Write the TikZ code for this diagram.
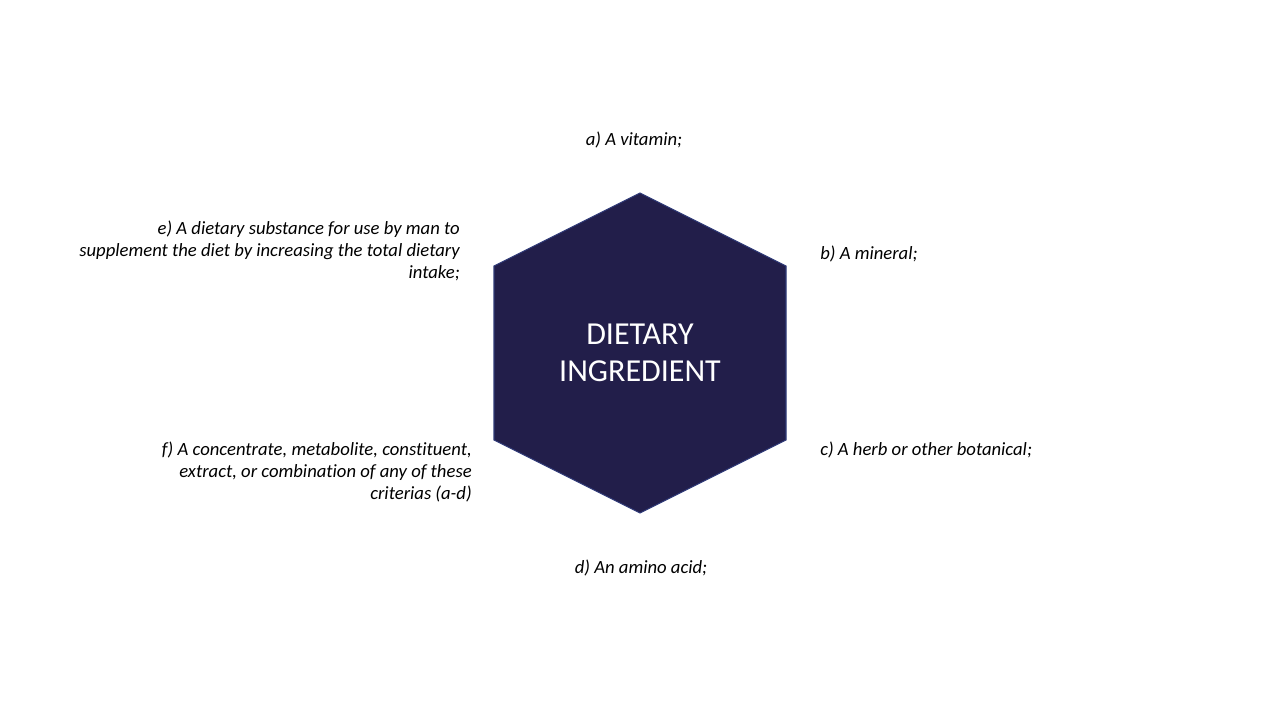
\documentclass[tikz,border=0pt]{standalone}
\usepackage{fontspec}
\setmainfont[Ligatures=NoCommon]{Carlito}
\usepackage{tikz}
\usetikzlibrary{positioning, calc}

\definecolor{hexnavy}{HTML}{221E4A}
\definecolor{hexedge}{HTML}{2F3A78}

\tikzset{
    crit/.style={font=\fontsize{14}{16.5}\selectfont\itshape, inner sep=0pt, text=black},
    title/.style={font=\fontsize{24}{27.75}\selectfont, text=white, align=center, inner sep=0pt}
}

\begin{document}
\begin{tikzpicture}[x=0.75pt, y=-0.75pt]
            \useasboundingbox (0,0) rectangle (1280,720);
            % hexagon
            \draw[hexedge, fill=hexnavy, line width=0.8pt] (640,193) -- (786,266) -- (786,440) -- (640,513) -- (494,440) -- (494,266) -- cycle;
            \node[title] (core) at (640,353) {DIETARY\\INGREDIENT};
            % criteria round it
            \node[crit] (vit) at (634,139.5) {a) A vitamin;};
            \node[crit, anchor=west] (mineral) at (820,253.5) {b) A mineral;};
            \node[crit, anchor=west] (herb) at (820,449.5) {c) A herb or other botanical;};
            \node[crit] (amino) at (641,567.5) {d) An amino acid;};
            \node[crit, anchor=east, align=right] (subst) at (460,250.5) {e) A dietary substance for use by man to\\supplement the diet by increasing the total dietary\\intake;};
            \node[crit, anchor=east, align=right] (conc) at (472,471.5) {f) A concentrate, metabolite, constituent,\\extract, or combination of any of these\\criterias (a-d)};
        \end{tikzpicture}
\end{document}
